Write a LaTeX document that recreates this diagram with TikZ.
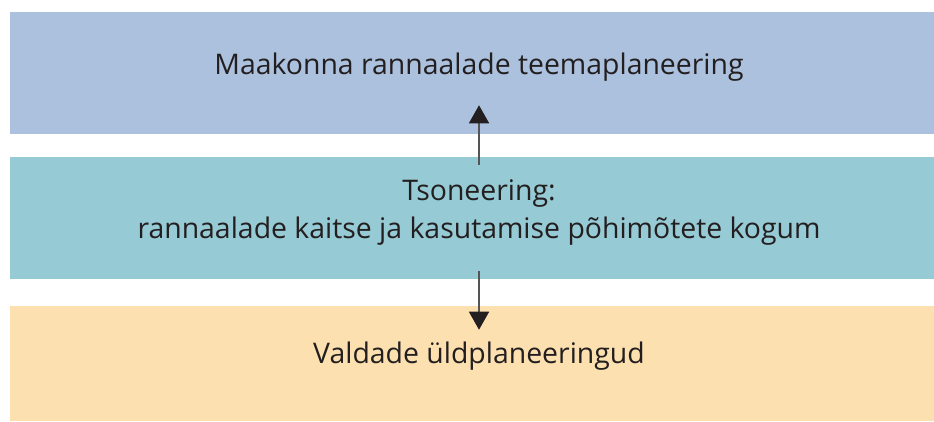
\documentclass[tikz,border=0pt]{standalone}
\usepackage{fontspec}
\setmainfont{Open Sans}
\usetikzlibrary{arrows.meta}
\definecolor{planblue}{HTML}{ABC1DD}
\definecolor{zoneteal}{HTML}{96CAD4}
\definecolor{localsand}{HTML}{FCE0B0}
\definecolor{arrowgray}{HTML}{555555}
\definecolor{inkdark}{HTML}{231F20}
\tikzset{
  band/.style={draw=none, inner sep=0pt, minimum width=693pt},
  label/.style={text=inkdark, font=\fontsize{21.3}{28.5}\selectfont, align=center, inner sep=0pt},
  arr/.style={draw=arrowgray, line width=1.1pt, -{Triangle[length=13.5pt, width=15pt, color=inkdark]}}
}
\begin{document}
\begin{tikzpicture}[x=0.75pt, y=-0.75pt]
    \useasboundingbox (0,0) rectangle (934,421);
    % three bands
    \node[band, fill=planblue, minimum height=91.5pt] (county) at (472,73) {};
    \node[band, fill=zoneteal, minimum height=91.5pt] (zoning) at (472,218) {};
    \node[band, fill=localsand, minimum height=86.25pt] (parish) at (472,363.5) {};
    % texts
    \node[label] (countytext) at (479,67) {Maakonna rannaalade teemaplaneering};
    \node[label] (zoningtext) at (479,212) {Tsoneering:\\rannaalade kaitse ja kasutamise põhimõtete kogum};
    \node[label] (parishtext) at (479,356) {Valdade üldplaneeringud};
    % arrows
    \coordinate (upstart) at ([yshift=-6pt]zoning.north -| countytext);
    \coordinate (upend) at ([yshift=21.75pt]county.south -| countytext);
    \coordinate (downstart) at ([yshift=6pt]zoning.south -| countytext);
    \coordinate (downend) at ([yshift=-18pt]parish.north -| countytext);
    \draw[arr] (upstart) -- (upend);
    \draw[arr] (downstart) -- (downend);
\end{tikzpicture}
\end{document}
